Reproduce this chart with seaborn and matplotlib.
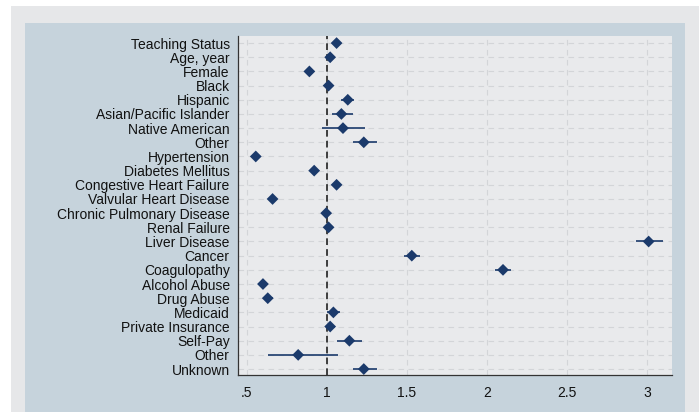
import numpy as np
import pandas as pd
import matplotlib
matplotlib.use('Agg')
import matplotlib.pyplot as plt
from matplotlib.patches import Rectangle
import seaborn as sns

# odds ratios and 95% CI
labels = ['Teaching Status', 'Age, year', 'Female', 'Black', 'Hispanic',
          'Asian/Pacific Islander', 'Native American', 'Other', 'Hypertension',
          'Diabetes Mellitus', 'Congestive Heart Failure', 'Valvular Heart Disease',
          'Chronic Pulmonary Disease', 'Renal Failure', 'Liver Disease', 'Cancer',
          'Coagulopathy', 'Alcohol Abuse', 'Drug Abuse', 'Medicaid',
          'Private Insurance', 'Self-Pay', 'Other', 'Unknown']
est = [1.06, 1.02, 0.89, 1.01, 1.13, 1.09, 1.10, 1.23, 0.555, 0.92, 1.06, 0.66,
       0.995, 1.01, 3.01, 1.53, 2.10, 0.60, 0.63, 1.04, 1.02, 1.14, 0.82, 1.23]
lo = [1.04, 1.01, 0.88, 0.99, 1.09, 1.03, 0.97, 1.16, 0.545, 0.91, 1.04, 0.645,
      0.985, 0.99, 2.93, 1.48, 2.05, 0.58, 0.60, 1.00, 1.00, 1.06, 0.63, 1.16]
hi = [1.08, 1.03, 0.90, 1.03, 1.17, 1.16, 1.24, 1.31, 0.565, 0.93, 1.08, 0.675,
      1.005, 1.03, 3.10, 1.58, 2.15, 0.62, 0.66, 1.08, 1.05, 1.22, 1.07, 1.31]
xticks = [0.5, 1, 1.5, 2, 2.5, 3]
xticklabels = ['.5', '1', '1.5', '2', '2.5', '3']

df = pd.DataFrame({'label': labels, 'est': est, 'lo': lo, 'hi': hi})
df['pos'] = np.arange(len(df))

sns.set_style('white')
plt.rcParams['font.family'] = ['Liberation Sans', 'DejaVu Sans']

navy = '#1b3a6b'
fig = plt.figure(figsize=(6.99, 4.12), dpi=100, facecolor='white')

# Stata-like layered backgrounds
fig.patches.append(Rectangle((11 / 699, 0), 1, (412 - 6) / 412, transform=fig.transFigure,
                             facecolor='#e6e7e9', edgecolor='none', zorder=-3))
fig.patches.append(Rectangle((25 / 699, 0), (685 - 25) / 699, (412 - 23) / 412,
                             transform=fig.transFigure, facecolor='#c6d3dc',
                             edgecolor='none', zorder=-2))

ax = fig.add_axes([238 / 699, 1 - 375 / 412, (672 - 238) / 699, (375 - 36) / 412])
ax.set_facecolor('#e9eaec')

# grid
for p in df['pos']:
    ax.axhline(p, color='#d3d5d8', lw=0.8, dashes=(5, 4), zorder=0)
for t in xticks:
    ax.axvline(t, color='#d3d5d8', lw=0.8, dashes=(5, 4), zorder=0)

ax.axvline(1, color='#222222', lw=1.2, dashes=(4, 2.5), zorder=1)

ax.hlines(df['pos'], df['lo'], df['hi'], color=navy, lw=1.2, zorder=2)
sns.scatterplot(data=df, x='est', y='pos', marker='D', s=36, color=navy,
                edgecolor='none', zorder=3, ax=ax)

ax.set_xlim(0.444, 3.156)
ax.set_ylim(len(df) - 1 + 0.42, -0.5)
ax.set_yticks(df['pos'])
ax.set_yticklabels(df['label'], fontsize=10, color='#111111')
ax.set_xticks(xticks)
ax.set_xticklabels(xticklabels, fontsize=10, color='#111111')
ax.set_xlabel('')
ax.set_ylabel('')
ax.tick_params(axis='both', direction='out', length=4, width=0.8, color='#333333', pad=2)
ax.tick_params(axis='x', pad=4)

for s in ['top', 'right']:
    ax.spines[s].set_visible(False)
for s in ['left', 'bottom']:
    ax.spines[s].set_color('#333333')
    ax.spines[s].set_linewidth(0.9)

fig.savefig('out.png', dpi=100, facecolor=fig.get_facecolor())
